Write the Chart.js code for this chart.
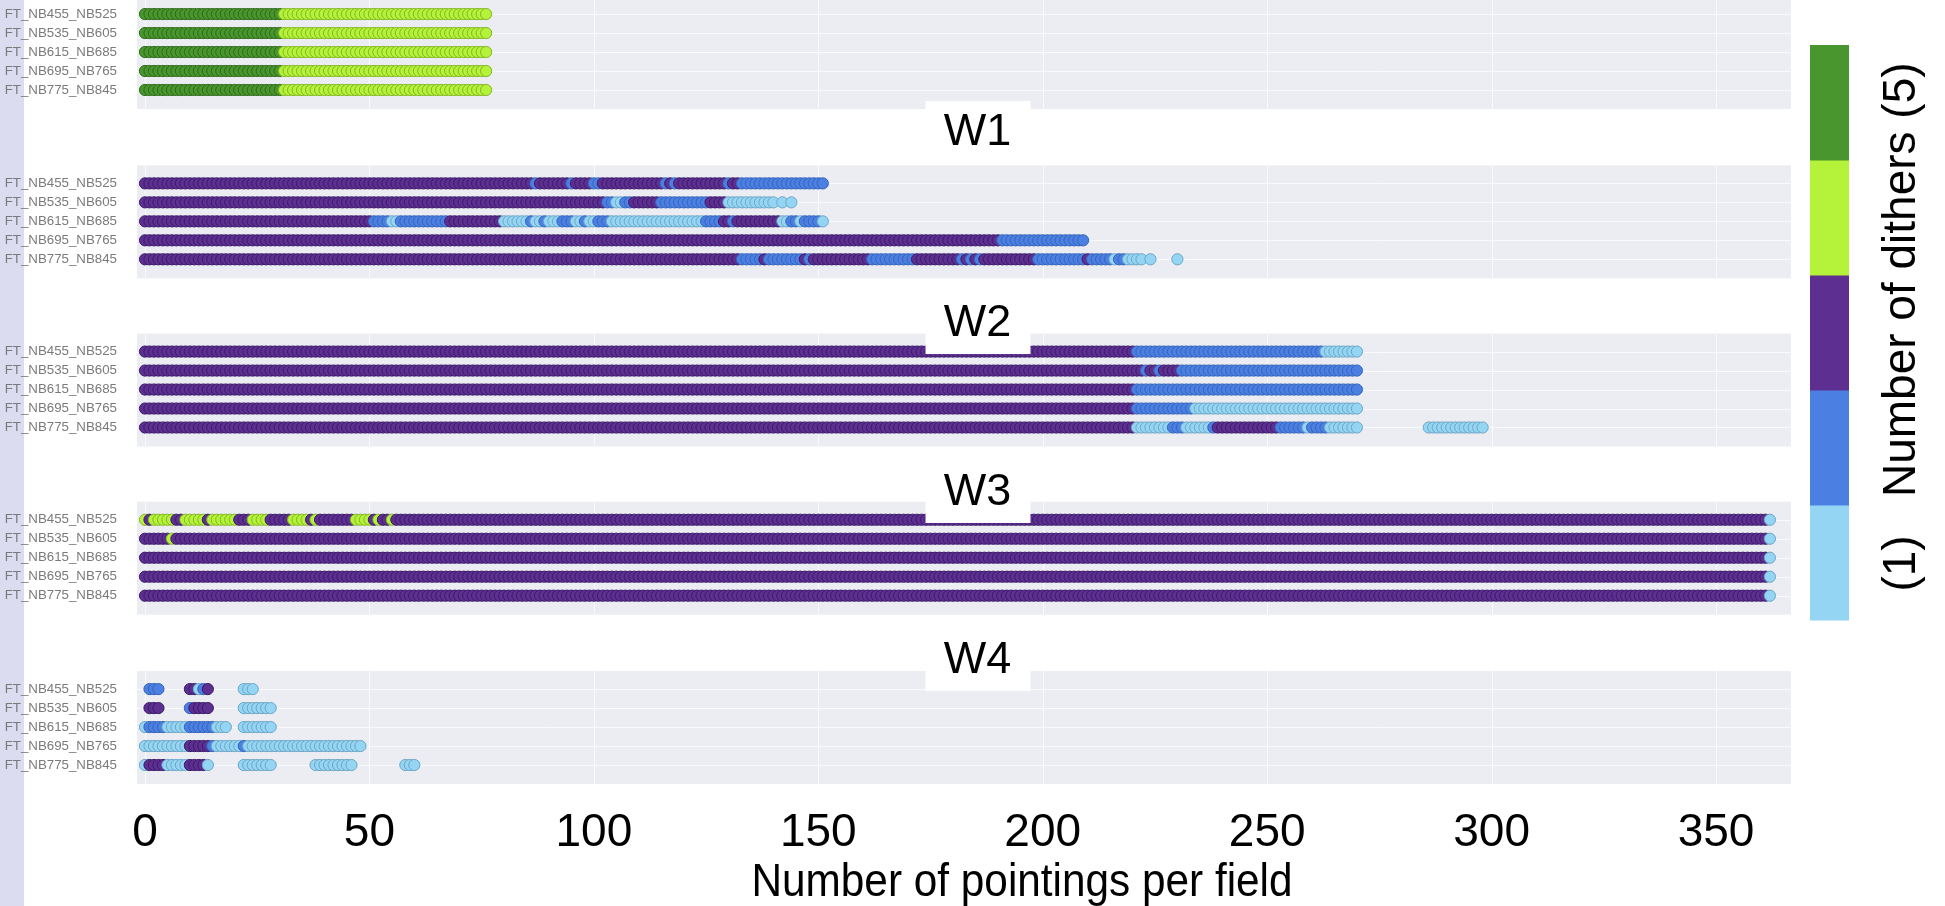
<!DOCTYPE html>
<html>
<head>
<meta charset="utf-8">
<title>Pointings per field</title>
<script src="https://cdn.jsdelivr.net/npm/chart.js@4.4.1/dist/chart.umd.min.js"></script>
<style>
  html, body { margin: 0; padding: 0; }
  body {
    width: 1945px; height: 906px; overflow: hidden;
    background: linear-gradient(to right, #dcdcf0 0, #dcdcf0 24px, #ffffff 24px);
  }
  canvas { display: block; }
</style>
</head>
<body>
<canvas id="chart" width="1945" height="906"></canvas>
<script>
// ---- data -------------------------------------------------------------
const FILTERS = ['FT_NB455_NB525', 'FT_NB535_NB605', 'FT_NB615_NB685', 'FT_NB695_NB765', 'FT_NB775_NB845'];
const PANEL_NAMES = ['', 'W1', 'W2', 'W3', 'W4'];
const X_TICKS = [0, 50, 100, 150, 200, 250, 300, 350];
const X_TITLE = 'Number of pointings per field';
const DITHER_LEVELS = [1, 2, 3, 4, 5];
const DITHER_COLORS = ['#95d5f4', '#4b80e2', '#5c2f90', '#b5f23a', '#4a962e'];
const DITHER_EDGES  = ['#6da6c6', '#3564bb', '#3d1a6b', '#84b824', '#2f6b1a'];

// runs of consecutive pointings: [first pointing, last pointing, number of dithers]
const runsTop = [
  [[0, 30, 5], [31, 76, 4]],
  [[0, 30, 5], [31, 76, 4]],
  [[0, 30, 5], [31, 76, 4]],
  [[0, 30, 5], [31, 76, 4]],
  [[0, 30, 5], [31, 76, 4]]
];
const runsW1 = [
  [[0, 86, 3], [87, 87, 2], [88, 94, 3], [95, 95, 2], [96, 99, 3], [100, 101, 2], [102, 115, 3],
   [116, 116, 2], [117, 117, 3], [118, 118, 2], [119, 129, 3], [130, 130, 2], [131, 132, 3], [133, 151, 2]],
  [[0, 102, 3], [103, 104, 2], [105, 106, 1], [107, 108, 2], [109, 114, 3], [115, 125, 2], [126, 129, 3],
   [130, 140, 1], [142, 142, 1], [144, 144, 1]],
  [[0, 50, 3], [51, 54, 2], [55, 56, 1], [57, 67, 2], [68, 79, 3], [80, 85, 1], [86, 86, 2], [87, 88, 1],
   [89, 89, 2], [90, 92, 1], [93, 95, 2], [96, 97, 1], [98, 98, 2], [99, 100, 1], [101, 103, 2], [104, 124, 1],
   [125, 128, 2], [129, 130, 3], [131, 131, 2], [132, 141, 3], [142, 143, 1], [144, 145, 2], [146, 146, 1],
   [147, 150, 2], [151, 151, 1]],
  [[0, 190, 3], [191, 209, 2]],
  [[0, 132, 3], [133, 137, 2], [138, 138, 3], [139, 146, 2], [147, 147, 3], [148, 148, 2], [149, 161, 3],
   [162, 171, 2], [172, 181, 3], [182, 182, 2], [183, 183, 3], [184, 184, 2], [185, 185, 3], [186, 186, 2],
   [187, 198, 3], [199, 209, 2], [210, 210, 3], [211, 215, 2], [216, 216, 1], [217, 218, 2], [219, 222, 1],
   [224, 224, 1], [230, 230, 1]]
];
const runsW2 = [
  [[0, 220, 3], [221, 262, 2], [263, 270, 1]],
  [[0, 222, 3], [223, 223, 2], [224, 225, 3], [226, 226, 2], [227, 230, 3], [231, 270, 2]],
  [[0, 220, 3], [221, 270, 2]],
  [[0, 220, 3], [221, 233, 2], [234, 270, 1]],
  [[0, 220, 3], [221, 228, 1], [229, 231, 2], [232, 237, 1], [238, 238, 2], [239, 252, 3], [253, 258, 2],
   [259, 259, 1], [260, 263, 2], [264, 270, 1], [286, 298, 1]]
];
const runsW3 = [
  [[0, 0, 4], [1, 1, 3], [2, 6, 4], [7, 8, 3], [9, 13, 4], [14, 14, 3], [15, 20, 4], [21, 23, 3], [24, 27, 4],
   [28, 32, 3], [33, 36, 4], [37, 37, 3], [38, 38, 4], [39, 46, 3], [47, 50, 4], [51, 51, 3], [52, 52, 4],
   [53, 54, 3], [55, 55, 4], [56, 361, 3], [362, 362, 1]],
  [[0, 5, 3], [6, 6, 4], [7, 361, 3], [362, 362, 1]],
  [[0, 361, 3], [362, 362, 1]],
  [[0, 361, 3], [362, 362, 1]],
  [[0, 361, 3], [362, 362, 1]]
];
const runsW4 = [
  [[1, 3, 2], [10, 11, 3], [12, 12, 1], [13, 13, 2], [14, 14, 3], [22, 24, 1]],
  [[1, 3, 3], [10, 10, 2], [11, 14, 3], [22, 28, 1]],
  [[0, 0, 1], [1, 4, 2], [5, 9, 1], [10, 15, 2], [16, 18, 1], [22, 28, 1]],
  [[0, 9, 1], [10, 14, 3], [15, 15, 2], [16, 21, 1], [22, 22, 2], [23, 48, 1]],
  [[0, 0, 1], [1, 4, 3], [5, 9, 1], [10, 13, 3], [14, 14, 1], [22, 28, 1], [38, 46, 1], [58, 60, 1]]
];
const PANEL_RUNS = [runsTop, runsW1, runsW2, runsW3, runsW4];

// ---- layout of the stacked panels (in row units of each panel's axis) ----
const Y_MIN = [-0.74, -3.92, -3.86, -3.86, -3.92];
const Y_MAX = 5.0;
const PANEL_EDGE_TOP = -0.95;
const TITLE_POS = [null, -2.86, -1.66, -1.62, -1.69];
const X_MIN = -1.78, X_MAX = 366.7;

const FONT = "'Liberation Sans', Arial, Helvetica, sans-serif";
const PANEL_BG = '#ebedf2';
const GRID_COLOR = 'rgba(255,255,255,0.7)';

// ---- datasets: one per filter row and panel ----
const datasets = [];
PANEL_RUNS.forEach((rows, p) => {
  rows.forEach((runs, r) => {
    const pts = [];
    runs.forEach(([first, last, d]) => {
      for (let n = first; n <= last; n++) pts.push({ x: n, y: r, d });
    });
    datasets.push({
      label: (PANEL_NAMES[p] || 'top') + ' ' + FILTERS[r],
      xAxisID: 'x',
      yAxisID: 'y' + p,
      data: pts,
      pointRadius: 5.6,
      pointBorderWidth: 1,
      pointBackgroundColor: pts.map(o => DITHER_COLORS[o.d - 1]),
      pointBorderColor: pts.map(o => DITHER_EDGES[o.d - 1]),
      showLine: false,
      clip: false
    });
  });
});

// ---- scales ----
const scales = {
  x: {
    type: 'linear', position: 'bottom', min: X_MIN, max: X_MAX,
    afterBuildTicks: s => { s.ticks = X_TICKS.map(v => ({ value: v })); },
    grid: { display: false }, border: { display: false },
    ticks: { font: { family: FONT, size: 46 }, color: '#000', padding: 14, maxRotation: 0, autoSkip: false },
    afterFit: s => { s.height = 122; s.paddingLeft = 0; s.paddingRight = 0; }
  }
};
PANEL_NAMES.forEach((name, p) => {
  scales['y' + p] = {
    type: 'linear', position: 'left', stack: 'panels',
    stackWeight: Y_MAX - Y_MIN[p], weight: PANEL_NAMES.length - p,
    min: Y_MIN[p], max: Y_MAX, reverse: true,
    afterBuildTicks: s => { s.ticks = FILTERS.map((f, k) => ({ value: k })); },
    grid: { display: false }, border: { display: false },
    ticks: { callback: v => FILTERS[v], font: { family: FONT, size: 13.3 }, color: '#7a7a7a',
             padding: 12, autoSkip: false },
    afterFit: s => { s.width = 137; s.paddingTop = 0; s.paddingBottom = 0; }
  };
});

// ---- panel backgrounds, subplot titles, axis title and the dither colour bar ----
const panelPlugin = {
  id: 'panels',
  beforeDatasetsDraw(chart) {
    const { ctx, chartArea } = chart;
    const xs = chart.scales.x;
    ctx.save();
    PANEL_NAMES.forEach((name, p) => {
      const ys = chart.scales['y' + p];
      const top = Math.max(ys.getPixelForValue(PANEL_EDGE_TOP), ys.top);
      const bottom = ys.getPixelForValue(Y_MAX);
      ctx.fillStyle = PANEL_BG;
      ctx.fillRect(chartArea.left, top, chartArea.right - chartArea.left, bottom - top);
      ctx.strokeStyle = GRID_COLOR;
      ctx.lineWidth = 1;
      ctx.beginPath();
      xs.ticks.forEach(t => {
        const px = Math.round(xs.getPixelForValue(t.value)) + 0.5;
        ctx.moveTo(px, top); ctx.lineTo(px, bottom);
      });
      ys.ticks.forEach(t => {
        const py = Math.round(ys.getPixelForValue(t.value)) + 0.5;
        ctx.moveTo(chartArea.left, py); ctx.lineTo(chartArea.right, py);
      });
      ctx.stroke();
    });
    ctx.restore();
  },
  afterDatasetsDraw(chart) {
    const { ctx, chartArea } = chart;
    ctx.save();
    // subplot titles on white boxes
    const tx = chart.width / 2 + 5;
    ctx.font = '45px ' + FONT;
    ctx.textAlign = 'center';
    ctx.textBaseline = 'alphabetic';
    PANEL_NAMES.forEach((name, p) => {
      if (!name) return;
      const ty = chart.scales['y' + p].getPixelForValue(TITLE_POS[p]);
      ctx.fillStyle = '#ffffff';
      ctx.fillRect(tx - 52, ty - 28, 105, 62);
      ctx.fillStyle = '#000';
      ctx.fillText(name, tx, ty + 16);
    });

    // x axis title, slightly condensed
    ctx.save();
    ctx.translate(1022, 896);
    ctx.scale(0.92, 1);
    ctx.font = '46px ' + FONT;
    ctx.fillStyle = '#000';
    ctx.fillText(X_TITLE, 0, 0);
    ctx.restore();

    // colour bar, 1 dither at the bottom up to 5 at the top
    const cbLeft = chartArea.right + 19, cbWidth = 39, cbTop = 45, cbBottom = 620;
    const band = (cbBottom - cbTop) / DITHER_LEVELS.length;
    DITHER_LEVELS.forEach((lvl, k) => {
      ctx.fillStyle = DITHER_COLORS[k];
      ctx.fillRect(cbLeft, cbBottom - (k + 1) * band, cbWidth, band + 0.5);
    });
    ctx.translate(1902, 327);
    ctx.rotate(-Math.PI / 2);
    ctx.fillStyle = '#000';
    ctx.font = '46px ' + FONT;
    ctx.textAlign = 'center';
    ctx.textBaseline = 'middle';
    ctx.fillText('(' + DITHER_LEVELS[0] + ')   Number of dithers (' + DITHER_LEVELS[DITHER_LEVELS.length - 1] + ')', 0, 0);
    ctx.restore();
  }
};

new Chart(document.getElementById('chart'), {
  type: 'scatter',
  data: { datasets },
  options: {
    responsive: false,
    animation: false,
    events: [],
    layout: { autoPadding: false, padding: { left: 0, right: 154, top: 0, bottom: 0 } },
    plugins: { legend: { display: false }, tooltip: { enabled: false } },
    scales
  },
  plugins: [panelPlugin]
});
</script>
</body>
</html>
